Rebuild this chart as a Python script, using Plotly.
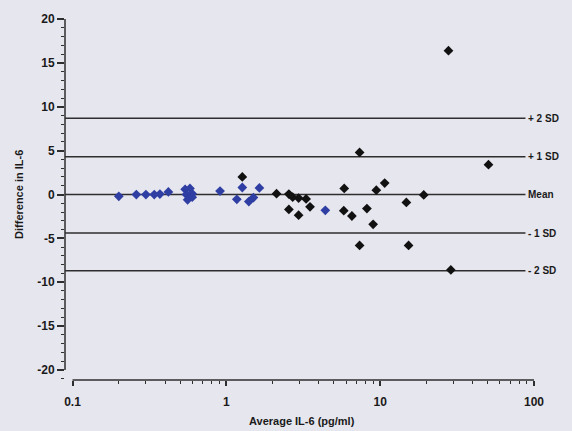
import numpy as np
import plotly.graph_objects as go

# ---- data ----
blue_x = [0.2, 0.26, 0.3, 0.34, 0.37, 0.42, 0.54, 0.58, 0.55, 0.6, 0.56, 0.6,
          0.91, 1.27, 1.17, 1.4, 1.5, 1.64, 4.4]
blue_y = [-0.2, 0.0, 0.0, 0.0, 0.05, 0.3, 0.6, 0.7, 0.0, 0.1, -0.6, -0.3,
          0.4, 0.8, -0.55, -0.8, -0.35, 0.75, -1.8]

black_x = [1.27, 2.12, 2.55, 2.7, 2.95, 3.3, 3.5, 2.55, 2.95, 5.8, 6.55, 5.84,
           7.35, 7.35, 8.2, 9.0, 9.44, 10.7, 14.8, 15.3, 19.2, 27.8, 50.6, 28.8]
black_y = [2.0, 0.1, 0.05, -0.3, -0.4, -0.5, -1.4, -1.7, -2.35, -1.85, -2.45, 0.7,
           4.8, -5.8, -1.6, -3.4, 0.5, 1.3, -0.9, -5.8, -0.05, 16.4, 3.4, -8.6]

sd_levels = [8.7, 4.3, 0.0, -4.4, -8.7]
sd_labels = ["+ 2 SD", "+ 1 SD", "Mean", "- 1 SD", "- 2 SD"]
line_x = [0.0894, 88]

x_major = [0.1, 1, 10, 100]
x_major_text = ["0.1", "1", "10", "100"]
x_minor = [m * d for d in [0.1, 1, 10] for m in range(2, 10)]
y_major = [-20, -15, -10, -5, 0, 5, 10, 15, 20]
y_major_text = ["-20", "-15", "-10", "-5", "0", "5", "10", "15", "20"]

FONT = "Liberation Sans, Arial, sans-serif"
BG = "#e6e6ee"
LINE = "#2e2e2e"
TXT = "#1a1a1a"

fig = go.Figure()
for lvl in sd_levels:
    fig.add_trace(go.Scatter(x=line_x, y=[lvl, lvl], mode="lines",
                             line=dict(color=LINE, width=1.5),
                             hoverinfo="skip", showlegend=False))

fig.add_trace(go.Scatter(x=blue_x, y=blue_y, mode="markers",
                         marker=dict(symbol="diamond", size=7.5, color="#2f3ea3"),
                         showlegend=False))
fig.add_trace(go.Scatter(x=black_x, y=black_y, mode="markers",
                         marker=dict(symbol="diamond", size=7.5, color="#111111"),
                         showlegend=False))

for lvl, lab in zip(sd_levels, sd_labels):
    fig.add_annotation(x=np.log10(line_x[1]), y=lvl, xref="x", yref="y",
                       text=lab, showarrow=False, xanchor="left", xshift=1,
                       font=dict(family=FONT, size=10, color=TXT, weight="bold"))

# axis lines (detached, Prism style)
fig.add_shape(type="line", xref="x domain", yref="y", x0=0, x1=0, y0=-20, y1=20,
              line=dict(color=LINE, width=1.5))
fig.add_shape(type="line", xref="x", yref="y domain", x0=0.1, x1=100, y0=0, y1=0,
              line=dict(color=LINE, width=1.5))

fig.add_annotation(text="Average IL-6 (pg/ml)", xref="paper", yref="paper",
                   x=0.5, y=0, yanchor="middle", yshift=-41, showarrow=False,
                   font=dict(family=FONT, size=11, color=TXT, weight="bold"))
fig.add_annotation(text="Difference in IL-6", xref="paper", yref="paper",
                   x=0, y=0.507, xanchor="center", xshift=-46, textangle=-90,
                   showarrow=False,
                   font=dict(family=FONT, size=11, color=TXT, weight="bold"))

fig.update_layout(
    width=572, height=431,
    margin=dict(l=65, r=34, t=15, b=51),
    paper_bgcolor=BG, plot_bgcolor=BG,
    showlegend=False,
)
fig.update_xaxes(type="log", range=[-1.0488, 2.026], showgrid=False, zeroline=False,
                 showline=False, tickmode="array", tickvals=x_major, ticktext=x_major_text,
                 ticks="outside", ticklen=5, tickwidth=1.5, tickcolor=LINE,
                 ticklabelstandoff=6,
                 minor=dict(tickmode="array", tickvals=x_minor, ticks="outside",
                            ticklen=3, tickwidth=1.2, tickcolor=LINE, showgrid=False),
                 tickfont=dict(family=FONT, size=12, color=TXT, weight="bold"))
fig.update_yaxes(range=[-21.15, 20.47], showgrid=False, zeroline=False, showline=False,
                 tickmode="array", tickvals=y_major, ticktext=y_major_text,
                 ticks="outside", ticklen=7, tickwidth=1.5, tickcolor=LINE,
                 minor=dict(dtick=1, ticks="outside", ticklen=3, tickwidth=1.2,
                            tickcolor=LINE, showgrid=False),
                 tickfont=dict(family=FONT, size=12, color=TXT, weight="bold"))

fig.write_html("out.html")
